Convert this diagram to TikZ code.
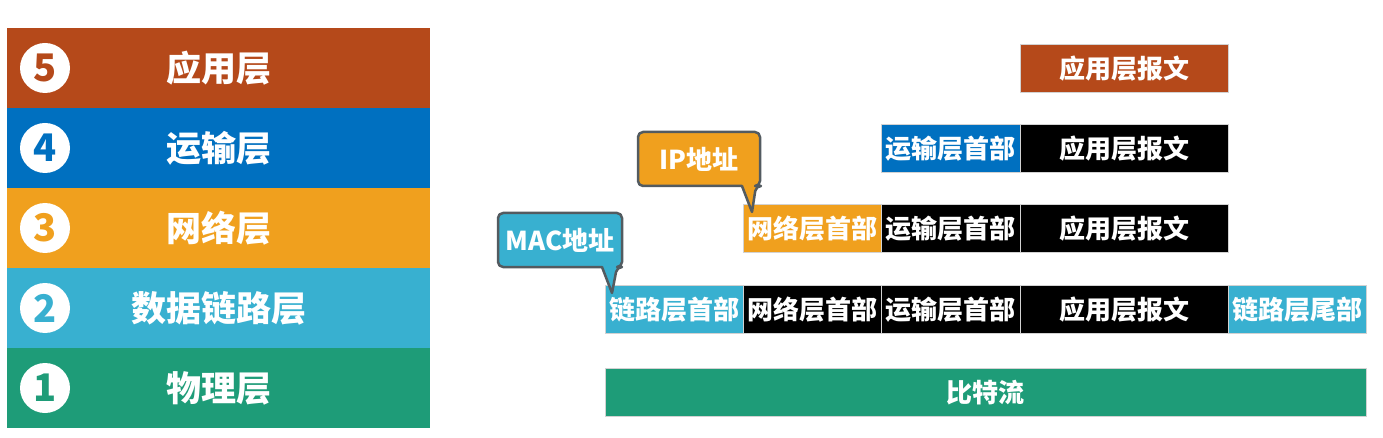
\documentclass[tikz,border=0pt]{standalone}
\usepackage{fontspec}
\setmainfont{Noto Sans CJK SC}

\definecolor{appc}{HTML}{B5491A}
\definecolor{trac}{HTML}{0070C0}
\definecolor{netc}{HTML}{F0A01E}
\definecolor{linkc}{HTML}{38B0D0}
\definecolor{phyc}{HTML}{1E9C78}
\definecolor{tipc}{HTML}{535B60}

\tikzset{
  layerbar/.style={fill=#1, anchor=north west, inner sep=0pt, minimum width=423pt,
    minimum height=80pt, text=white, font=\bfseries\fontsize{35}{35}\selectfont},
  numdot/.style={circle, fill=white, inner sep=0pt, minimum size=50pt, text=#1,
    font=\bfseries\fontsize{38}{38}\selectfont},
  pdubox/.style={fill=#1, draw=gray!35, line width=0.8pt, anchor=north west, inner sep=0pt,
    minimum height=48pt, text=white, font=\bfseries\fontsize{26}{26}\selectfont},
  tipline/.style={fill=#1, draw=tipc, line width=2.5pt, line join=round},
  tiptext/.style={inner sep=0pt, text=white, font=\bfseries\fontsize{26}{26}\selectfont}
}

\begin{document}
\begin{tikzpicture}[x=1pt, y=-1pt]
    \useasboundingbox (0, 0) rectangle (1383, 438);

    \node[layerbar=appc]  (app)  at (7, 28)  {应用层};
    \node[layerbar=trac]  (tra)  at (7, 108) {运输层};
    \node[layerbar=netc]  (net)  at (7, 188) {网络层};
    \node[layerbar=linkc] (link) at (7, 268) {数据链路层};
    \node[layerbar=phyc]  (phy)  at (7, 348) {物理层};

    \node[numdot=appc]  (n5) at (45, 68)  {5};
    \node[numdot=trac]  (n4) at (45, 148) {4};
    \node[numdot=netc]  (n3) at (45, 228) {3};
    \node[numdot=linkc] (n2) at (45, 308) {2};
    \node[numdot=phyc]  (n1) at (45, 388) {1};

    \node[pdubox=appc, minimum width=208pt] (msg5) at (1020, 44) {应用层报文};

    \node[pdubox=trac, minimum width=139pt] (th4) at (881, 124) {运输层首部};
    \node[pdubox=black, minimum width=208pt] (msg4) at (1020, 124) {应用层报文};

    \node[pdubox=netc, minimum width=138pt] (nh3) at (743, 204) {网络层首部};
    \node[pdubox=black, minimum width=139pt] (th3) at (881, 204) {运输层首部};
    \node[pdubox=black, minimum width=208pt] (msg3) at (1020, 204) {应用层报文};

    \node[pdubox=linkc, minimum width=138pt] (lh2) at (605, 285) {链路层首部};
    \node[pdubox=black, minimum width=138pt] (nh2) at (743, 285) {网络层首部};
    \node[pdubox=black, minimum width=139pt] (th2) at (881, 285) {运输层首部};
    \node[pdubox=black, minimum width=208pt] (msg2) at (1020, 285) {应用层报文};
    \node[pdubox=linkc, minimum width=138pt] (lt2) at (1228, 285) {链路层尾部};

    \node[pdubox=phyc, minimum width=761pt] (bits) at (605, 368) {比特流};

    \draw[tipline=netc] (638, 132) [rounded corners=5pt] -- (760, 132) -- (760, 186)
        -- (756, 186) [sharp corners] -- (752, 212) -- (742, 186)
        [rounded corners=5pt] -- (638, 186) -- cycle;
    \node[tiptext] (ipnote) at (699, 159) {IP地址};

    \draw[tipline=linkc] (498, 213) [rounded corners=5pt] -- (622, 213) -- (622, 267)
        -- (617, 267) [sharp corners] -- (612, 293) -- (602, 267)
        [rounded corners=5pt] -- (498, 267) -- cycle;
    \node[tiptext] (macnote) at (560, 240) {MAC地址};

\end{tikzpicture}
\end{document}
